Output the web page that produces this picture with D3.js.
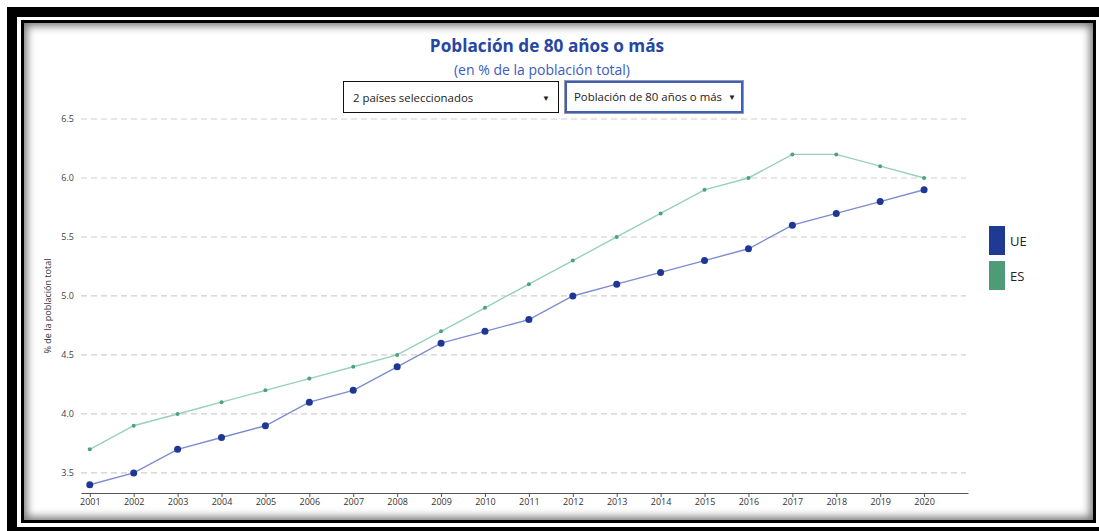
<!DOCTYPE html>
<html>
<head>
<meta charset="utf-8">
<script src="https://cdn.jsdelivr.net/npm/d3@7"></script>
<style>
  html, body { margin: 0; padding: 0; background: #fff; width: 1099px; height: 531px; overflow: hidden; }
  body { font-family: "Open Sans", "Noto Sans", sans-serif; position: relative; }
  .outer { position: absolute; left: 7px; top: 7px; width: 1110px; height: 540px; background: #000; }
  .gap { position: absolute; left: 17px; top: 17px; width: 1100px; height: 510px; background: #fff; }
  .panel { position: absolute; left: 21px; top: 20px; width: 1069px; height: 497px;
           border: 3px solid #000; background: #fff;
           box-shadow: inset 0 0 9px 3px rgba(0,0,0,0.55); }
  svg { position: absolute; left: 0; top: 0; }
  .sel { position: absolute; top: 81px; height: 30px; box-sizing: border-box; background: #fff;
         font-size: 11.4px; color: #222; line-height: 30px; padding-left: 9px; white-space: nowrap; }
  .sel .arrow { position: absolute; right: 8px; top: 0; font-size: 8px; }
  #sel1 { left: 343px; width: 216px; height: 32px; border: 1px solid #111; line-height: 31px; }
  #sel2 { left: 565px; width: 178px; height: 32px; border: 2px solid #3d5fc4; outline: 1px solid #999;
          padding-left: 7px; line-height: 28px; }
  #sel2 .arrow { right: 5px; }
</style>
</head>
<body>
<div class="outer"></div>
<div class="gap"></div>
<div class="panel"></div>
<svg id="chart" width="1099" height="531"></svg>
<div class="sel" id="sel1">2 países seleccionados<span class="arrow">&#9660;</span></div>
<div class="sel" id="sel2">Población de 80 años o más<span class="arrow">&#9660;</span></div>
<script>
// Share of population aged 80 and over (% of total population)
const years = [2001, 2002, 2003, 2004, 2005, 2006, 2007, 2008, 2009, 2010,
               2011, 2012, 2013, 2014, 2015, 2016, 2017, 2018, 2019, 2020];
const ueValues = [3.4, 3.5, 3.7, 3.8, 3.9, 4.1, 4.2, 4.4, 4.6, 4.7,
                  4.8, 5.0, 5.1, 5.2, 5.3, 5.4, 5.6, 5.7, 5.8, 5.9];
const esValues = [3.7, 3.9, 4.0, 4.1, 4.2, 4.3, 4.4, 4.5, 4.7, 4.9,
                  5.1, 5.3, 5.5, 5.7, 5.9, 6.0, 6.2, 6.2, 6.1, 6.0];
const yTicks = [3.5, 4.0, 4.5, 5.0, 5.5, 6.0, 6.5];
const seriesNames = ["UE", "ES"];

const title = "Población de 80 años o más";
const subtitle = "(en % de la población total)";
const yLabel = "% de la población total";

const svg = d3.select("#chart");
const blue = "#2646a3";

const x = d3.scaleLinear().domain([2000.8, 2021]).range([81, 968]);
const y = d3.scaleLinear().domain([3.33, 6.5]).range([493, 119]);

// Titles
svg.append("text").attr("x", 547).attr("y", 52).attr("text-anchor", "middle")
  .attr("font-size", 17.2).attr("font-weight", "bold").attr("fill", blue).text(title);
svg.append("text").attr("x", 542).attr("y", 75).attr("text-anchor", "middle")
  .attr("font-size", 14).attr("fill", "#3a5bbf").text(subtitle);

// Gridlines
svg.append("g").selectAll("line").data(yTicks).join("line")
  .attr("x1", 81).attr("x2", 966)
  .attr("y1", d => y(d)).attr("y2", d => y(d))
  .attr("stroke", "#d0d0d0").attr("stroke-width", 1.2).attr("stroke-dasharray", "6,4");

// Y tick labels
svg.append("g").selectAll("text").data(yTicks).join("text")
  .attr("x", 74).attr("y", d => y(d) + 3).attr("text-anchor", "end")
  .attr("font-size", 9).attr("fill", "#444").text(d => d.toFixed(1));

// Y axis title
svg.append("text").attr("transform", "translate(51,306) rotate(-90)")
  .attr("text-anchor", "middle").attr("font-size", 9).attr("fill", "#333").text(yLabel);

// X axis
const xAxis = d3.axisBottom(x).tickValues(years).tickFormat(d3.format("d")).tickSize(4).tickSizeOuter(0);
const gx = svg.append("g").attr("transform", "translate(0,493)").call(xAxis);
gx.select(".domain").attr("stroke", "#555");
gx.selectAll(".tick line").attr("stroke", "#555");
gx.selectAll(".tick text").attr("font-size", 9).attr("fill", "#333")
  .attr("font-family", "'Open Sans', sans-serif").attr("dy", "0.6em");

// Series
const series = [
  { name: "UE", values: ueValues, line: "#7d8ccf", dot: "#1e3796", r: 3.5 },
  { name: "ES", values: esValues, line: "#95d2b6", dot: "#4da27a", r: 2 }
];
const line = d3.line().x((d, i) => x(years[i])).y(d => y(d));

series.slice().reverse().forEach(s => {
  const g = svg.append("g");
  g.append("path").datum(s.values).attr("d", line)
    .attr("fill", "none").attr("stroke", s.line).attr("stroke-width", 1.4);
  g.selectAll("circle").data(s.values).join("circle")
    .attr("cx", (d, i) => x(years[i])).attr("cy", d => y(d))
    .attr("r", s.r).attr("fill", s.dot);
});

// Legend
const legendColors = ["#1f3a93", "#4f9a77"];
const lg = svg.append("g").selectAll("g").data(seriesNames).join("g")
  .attr("transform", (d, i) => `translate(989,${226 + i * 35})`);
lg.append("rect").attr("width", 16).attr("height", 29).attr("fill", (d, i) => legendColors[i]);
lg.append("text").attr("x", 21).attr("y", 20).attr("font-size", 13).attr("fill", "#222").text(d => d);
</script>
</body>
</html>
